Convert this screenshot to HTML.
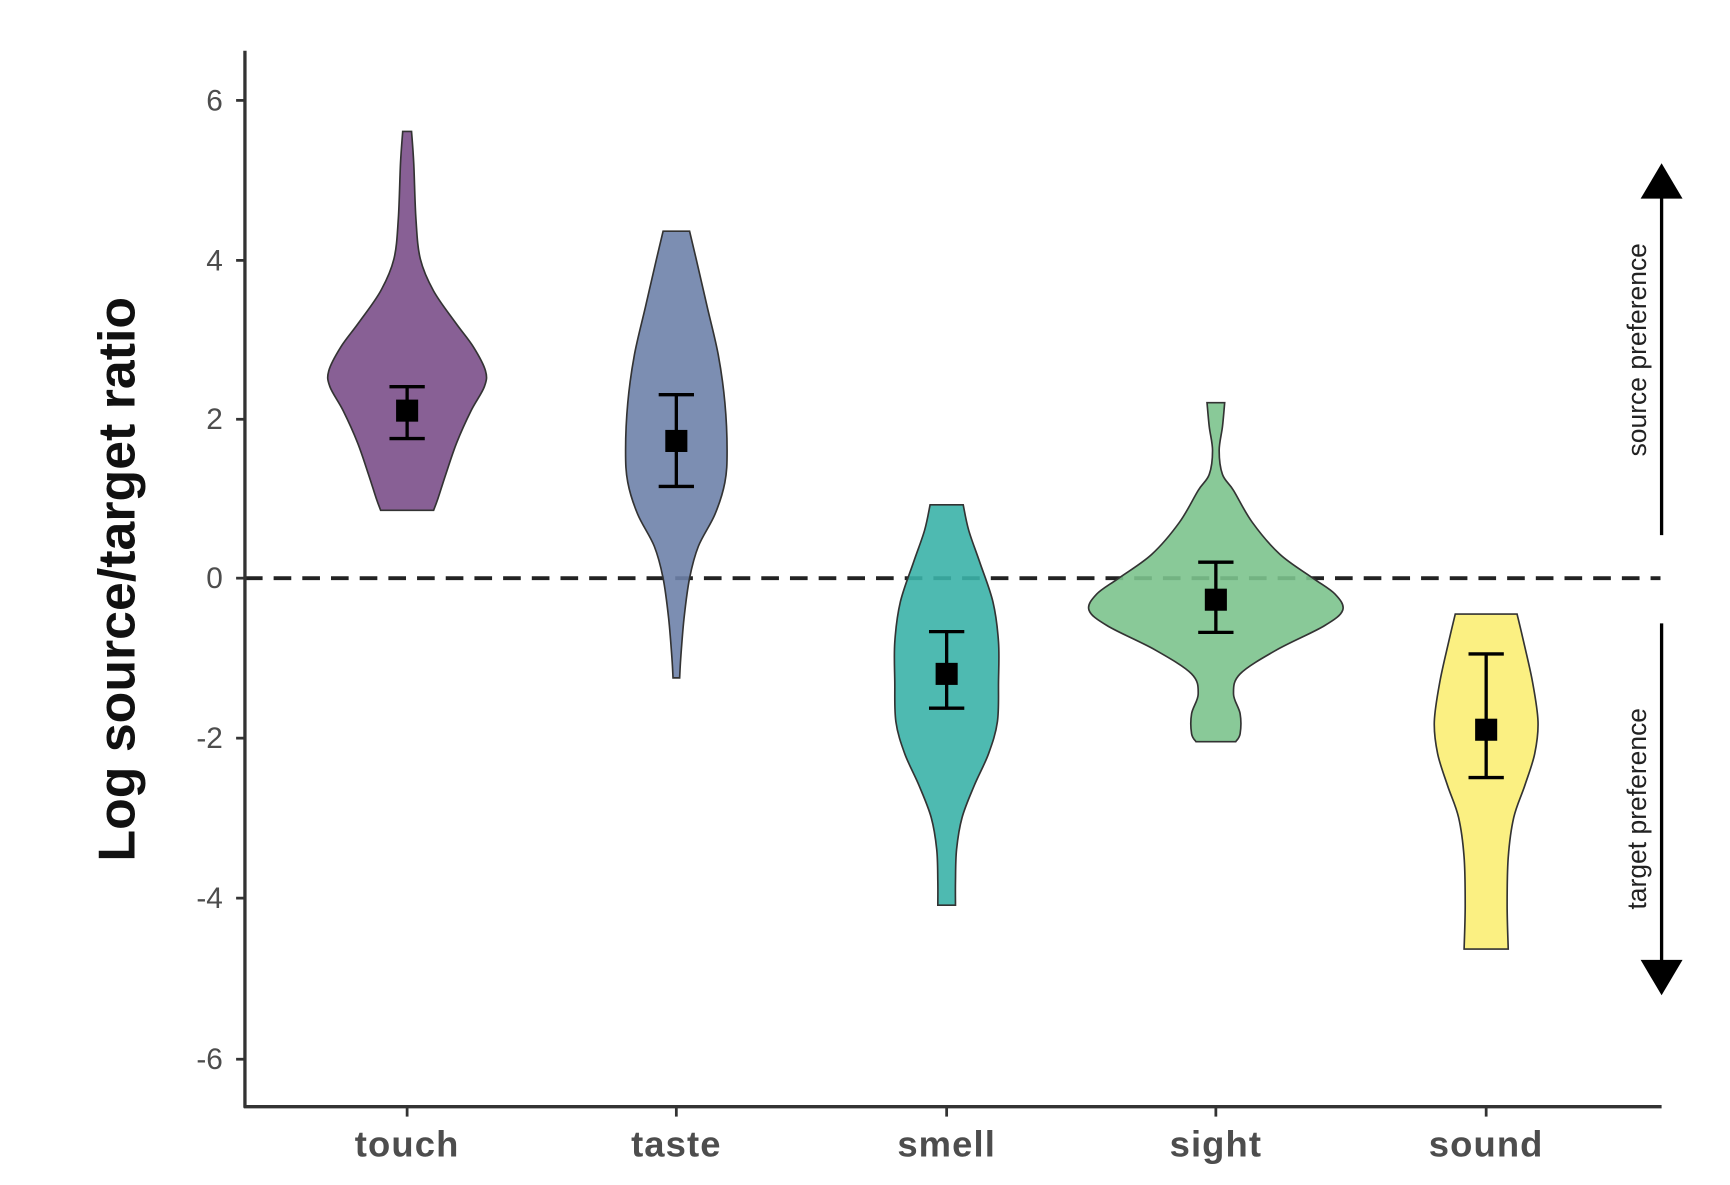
<!DOCTYPE html>
<html><head><meta charset="utf-8"><style>
html,body{margin:0;padding:0;background:#fff}
svg{display:block}
text{font-family:"Liberation Sans",Arial,sans-serif}
</style></head><body>
<svg id="s" width="1730" height="1185" viewBox="0 0 1568 1074" preserveAspectRatio="none" xmlns="http://www.w3.org/2000/svg">
<rect width="1568" height="1074" fill="#fff"/>
<line x1="222" y1="524" x2="1505" y2="524" stroke="#222" stroke-width="3.5" stroke-dasharray="16,10"/>
<g id="v"></g>
<g id="e" stroke="#000" stroke-width="3" fill="none"></g>
<line x1="222" y1="46" x2="222" y2="1004" stroke="#333" stroke-width="3"/>
<line x1="221" y1="1003" x2="1506" y2="1003" stroke="#333" stroke-width="3"/>
<g stroke="#333" stroke-width="2.5">
<line x1="214" y1="91" x2="222" y2="91"/><line x1="214" y1="236" x2="222" y2="236"/><line x1="214" y1="380" x2="222" y2="380"/><line x1="214" y1="524" x2="222" y2="524"/><line x1="214" y1="669" x2="222" y2="669"/><line x1="214" y1="814" x2="222" y2="814"/><line x1="214" y1="960" x2="222" y2="960"/>
<line x1="369" y1="1003" x2="369" y2="1012"/><line x1="613" y1="1003" x2="613" y2="1012"/><line x1="858" y1="1003" x2="858" y2="1012"/><line x1="1102" y1="1003" x2="1102" y2="1012"/><line x1="1347" y1="1003" x2="1347" y2="1012"/>
</g>
<g font-size="27" fill="#4d4d4d" text-anchor="end">
<text x="202" y="100">6</text><text x="202" y="245">4</text><text x="202" y="389">2</text><text x="202" y="533">0</text><text x="202" y="678">-2</text><text x="202" y="823">-4</text><text x="202" y="969">-6</text>
</g>
<g font-size="33" font-weight="bold" fill="#4d4d4d" text-anchor="middle" letter-spacing="1">
<text x="369" y="1048">touch</text><text x="613" y="1048">taste</text><text x="858" y="1048">smell</text><text x="1102" y="1048">sight</text><text x="1347" y="1048">sound</text>
</g>
<text transform="translate(122,525) rotate(-90)" font-size="47" font-weight="bold" fill="#111" text-anchor="middle">Log source/target ratio</text>
<line x1="1506" y1="175" x2="1506" y2="485" stroke="#000" stroke-width="3"/>
<polygon points="1487,180 1525,180 1506,148" fill="#000"/>
<line x1="1506" y1="565" x2="1506" y2="875" stroke="#000" stroke-width="3"/>
<polygon points="1487,870 1525,870 1506,902" fill="#000"/>
<text transform="translate(1492,317) rotate(-90)" font-size="24" fill="#222" text-anchor="middle">source preference</text>
<text transform="translate(1492,733) rotate(-90)" font-size="24" fill="#222" text-anchor="middle">target preference</text>
</svg>
<script>
function Y(v){return 524-v*72.3;}
var V=[
 [369,"#7b4f8a",[[5.6,4],[5.2,6],[4.5,8],[4.0,12],[3.6,24],[3.2,44],[2.9,60],[2.6,71],[2.4,70],[2.1,58],[1.7,45],[1.3,35],[1.0,28],[0.85,24]]],
 [613,"#6e82aa",[[4.35,12],[4.0,18],[3.4,28],[2.8,38],[2.2,44],[1.6,46],[1.2,44],[0.8,35],[0.4,20],[0,12],[-0.5,7],[-1.0,4],[-1.25,3]]],
 [858,"#3bb3a8",[[0.92,15],[0.6,20],[0.2,30],[-0.3,42],[-0.8,47],[-1.3,47],[-1.8,46],[-2.2,38],[-2.6,25],[-3.0,14],[-3.4,9],[-3.8,8],[-4.1,8]]],
 [1102,"#7cc38d",[[2.2,8],[1.9,6],[1.6,3],[1.3,6],[1.1,16],[0.7,33],[0.3,58],[0.0,88],[-0.2,108],[-0.4,115],[-0.6,98],[-0.9,55],[-1.2,22],[-1.45,16],[-1.7,22],[-1.95,22],[-2.05,18]]],
 [1347,"#fbee74",[[-0.45,28],[-0.8,34],[-1.3,42],[-1.8,47],[-2.2,44],[-2.6,35],[-3.0,25],[-3.5,20],[-4.1,19],[-4.65,20]]]
];
function smooth(pts){var d="M"+pts[0][0]+","+pts[0][1];for(var i=0;i<pts.length-1;i++){var p0=pts[i-1]||pts[i],p1=pts[i],p2=pts[i+1],p3=pts[i+2]||p2;var c1=[p1[0]+(p2[0]-p0[0])/6,p1[1]+(p2[1]-p0[1])/6],c2=[p2[0]-(p3[0]-p1[0])/6,p2[1]-(p3[1]-p1[1])/6];d+=" C"+c1+" "+c2+" "+p2;}return d;}
var g=document.getElementById("v"),h="";
V.forEach(function(o){var c=o[0],P=o[2];var r=P.map(function(p){return [c+p[1],Y(p[0])]});var l=P.slice().reverse().map(function(p){return [c-p[1],Y(p[0])]});
var d=smooth(r)+" L"+l[0]+smooth(l).slice(1).replace(/^[^C]*/,"")+" Z";
h+='<path d="'+d+'" fill="'+o[1]+'" fill-opacity="0.9" stroke="#333" stroke-width="1.5"/>';});
g.innerHTML=h;
var E=[[369,2.1,2.4,1.75],[613,1.72,2.3,1.15],[858,-1.2,-0.67,-1.63],[1102,-0.27,0.2,-0.68],[1347,-1.9,-0.95,-2.5]],s="";
E.forEach(function(e){var x=e[0];s+='<line x1="'+x+'" y1="'+Y(e[2])+'" x2="'+x+'" y2="'+Y(e[3])+'"/>';
s+='<line x1="'+(x-16)+'" y1="'+Y(e[2])+'" x2="'+(x+16)+'" y2="'+Y(e[2])+'"/>';
s+='<line x1="'+(x-16)+'" y1="'+Y(e[3])+'" x2="'+(x+16)+'" y2="'+Y(e[3])+'"/>';
s+='<rect x="'+(x-10)+'" y="'+(Y(e[1])-10)+'" width="20" height="20" fill="#000" stroke="none"/>';});
document.getElementById("e").innerHTML=s;
</script>
</body></html>
